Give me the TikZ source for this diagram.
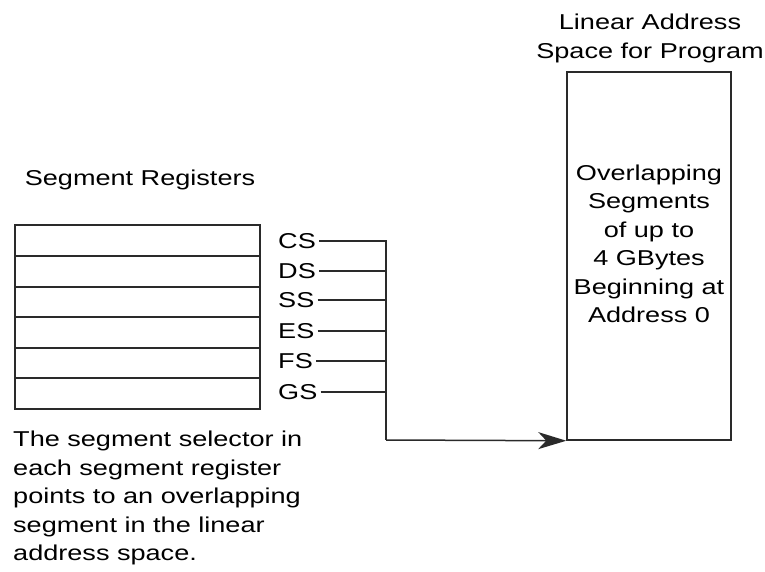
\documentclass[tikz,border=0pt]{standalone}
\usepackage{fontspec}
\setmainfont{Liberation Sans}[FakeStretch=1.26]
\usetikzlibrary{arrows.meta}
\definecolor{ink}{HTML}{2A2A2A}
\tikzset{
  lbl/.style={font=\fontsize{21.5}{28.5}\selectfont, inner sep=0pt, text=black},
  edge/.style={draw=ink, line width=1.5pt},
  reg/.style={lbl, anchor=west, inner xsep=3pt}
}
\begin{document}
\begin{tikzpicture}[x=1pt, y=-1pt]
  \useasboundingbox (0,0) rectangle (765,572);

  % register file
  \draw[edge] (15,225) rectangle (260,409);
  \foreach \yy in {256,287,317,348,378}
    \draw[edge] (15,\yy) -- (260,\yy);

  \node[lbl] (title) at (140,179.5) {Segment Registers};

  % register names and their connectors
  \node[reg] (cs) at (275,241) {CS};
  \node[reg] (ds) at (275,271) {DS};
  \node[reg] (ss) at (275,300) {SS};
  \node[reg] (es) at (275,331) {ES};
  \node[reg] (fs) at (275,361) {FS};
  \node[reg] (gs) at (275,392) {GS};

  \coordinate (top) at (386,240);
  \coordinate (bend) at (386,440);
  \foreach \r in {cs,ds,ss,es,fs,gs}
    \draw[edge] (\r.east) -- (\r.east -| top);
  \draw[edge] (top) -- (bend);

  % linear address space
  \node[edge, minimum width=164pt, minimum height=368pt, inner sep=0pt] (space) at (649,256) {};
  \node[lbl, align=center] (spacelabel) at (649,244)
    {Overlapping\\Segments\\of up to\\4 GBytes\\Beginning at\\Address 0};
  \node[lbl, align=center] (spacetitle) at (650,38.5)
    {Linear Address\\Space for Program};

  \draw[edge, -{Stealth[length=28pt, width=17pt, inset=8pt]}] (bend) -- (space.south west);

  % caption
  \node[lbl, align=left, anchor=north west] (caption) at (13,431)
    {The segment selector in\\each segment register\\points to an overlapping\\segment in the linear\\address space.};
\end{tikzpicture}
\end{document}
